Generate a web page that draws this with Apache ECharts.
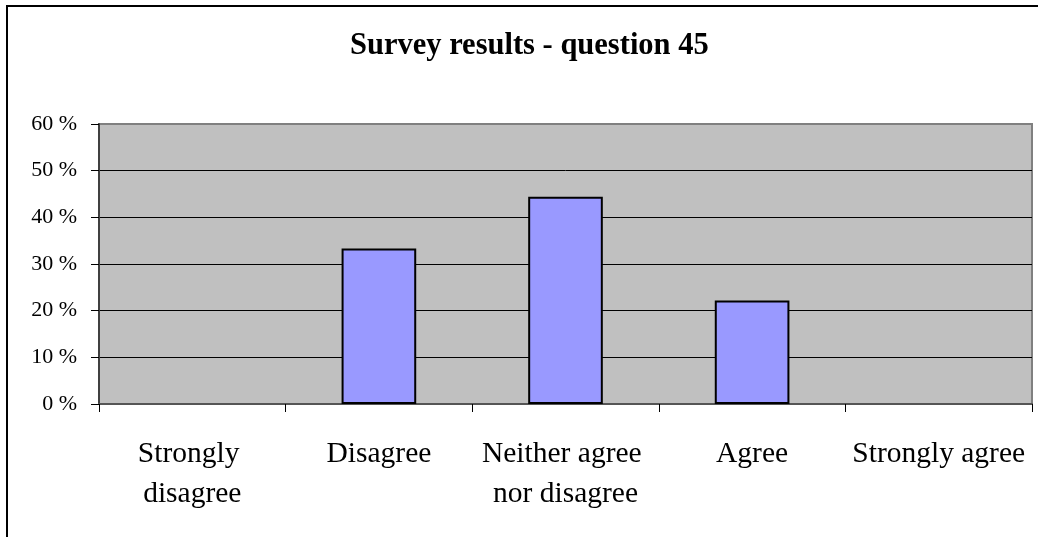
<!DOCTYPE html>
<html>
<head>
<meta charset="utf-8">
<script src="https://cdn.jsdelivr.net/npm/echarts@6/dist/echarts.min.js"></script>
<style>
  html, body { margin: 0; padding: 0; background: #fff; }
  #chart { width: 1038px; height: 537px; }
</style>
</head>
<body>
<div id="chart"></div>
<script>
// survey answers, share of respondents in percent
var categories = ['Strongly disagree', 'Disagree', 'Neither agree nor disagree', 'Agree', 'Strongly agree']
var values = [0, 33.3, 44.4, 22.2, 0]
var yTicks = [0, 10, 20, 30, 40, 50, 60]

var chart = echarts.init(document.getElementById('chart'))
var fontFamily = '"Liberation Serif", "Times New Roman", serif'

var option = {
  animation: false,
  title: {
    text: 'Survey results - question 45',
    left: 345,
    top: 26,
    textStyle: {
      fontFamily: fontFamily,
      fontWeight: 'bold',
      fontSize: 30.5,
      color: '#000'
    }
  },
  graphic: [
    { // outer frame of the chart
      type: 'rect',
      shape: { x: 7, y: 6, width: 1100, height: 600 },
      style: { fill: 'none', stroke: '#000', lineWidth: 2 },
      silent: true
    }
  ],
  grid: {
    left: 99,
    top: 124,
    right: 6,
    bottom: 133,
    show: true,
    backgroundColor: '#C0C0C0',
    borderColor: '#808080',
    borderWidth: 2
  },
  xAxis: {
    type: 'category',
    data: categories,
    boundaryGap: true,
    axisLine: { lineStyle: { color: '#555', width: 2 }},
    axisTick: { show: true, length: 8, lineStyle: { color: '#000' }},
    axisLabel: {
      interval: 0,
      margin: 30,
      width: 180,
      overflow: 'break',
      lineHeight: 40,
      fontFamily: fontFamily,
      fontSize: 29.5,
      color: '#000'
    }
  },
  yAxis: {
    type: 'value',
    min: yTicks[0],
    max: yTicks[yTicks.length - 1],
    interval: 10,
    axisLine: { show: true, lineStyle: { color: '#404040', width: 2 }},
    axisTick: { show: true, length: 8, lineStyle: { color: '#000' }},
    splitLine: { show: true, showMinLine: false, showMaxLine: false, lineStyle: { color: '#000', width: 1 }},
    axisLabel: {
      margin: 22,
      formatter: '{value} %',
      fontFamily: fontFamily,
      fontSize: 22,
      color: '#000'
    }
  },
  series: [
    {
      name: 'Answers',
      type: 'bar',
      // empty answers draw no bar at all
      data: values.map(function(v) { return v === 0 ? null : v }),
      barCategoryGap: '60%',
      itemStyle: {
        color: '#9999FF',
        borderColor: '#000',
        borderWidth: 2
      }
    }
  ]
}
chart.setOption(option)
</script>
</body>
</html>
